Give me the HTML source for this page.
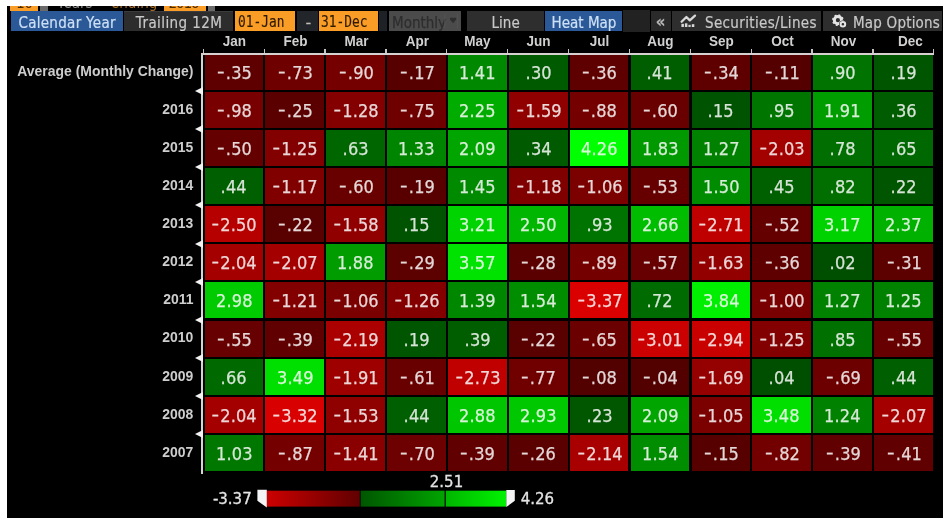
<!DOCTYPE html>
<html><head><meta charset="utf-8"><style>
html,body{margin:0;padding:0;background:#fff;width:950px;height:526px;overflow:hidden}
#pn{position:absolute;left:7px;top:6px;width:936px;height:512px;background:#000;overflow:hidden;filter:blur(0.5px)}
.a{position:absolute}
#g{position:absolute;left:-7px;top:-6px;width:950px;height:526px}
.c{position:absolute;width:58.67px;height:36.0px;line-height:38.5px;text-align:center;color:#f2eeee;font-family:"DejaVu Sans","Liberation Sans",sans-serif;font-size:18px;-webkit-text-stroke:0.25px currentColor}
.c>span{display:inline-block;transform:scaleX(0.9)}
.m{display:inline-block;transform:translateY(-1.6px) scaleX(1.3);transform-origin:100% 50%;margin-right:1.2px}
.p{margin:0 0.2px}
.n{text-indent:1px}
.rl{position:absolute;right:756.5px;height:36.0px;line-height:36.0px;color:#cdcdcd;font-family:"Liberation Sans",sans-serif;font-weight:bold;font-size:15px;white-space:nowrap;transform:scaleX(0.93);transform-origin:100% 50%}
.mh{position:absolute;top:31px;width:60.87px;height:20px;line-height:20px;text-align:center;color:#d0d0d0;font-family:"Liberation Sans",sans-serif;font-weight:bold;font-size:15px;transform:scaleX(0.9);transform-origin:50% 50%}
.tk{position:absolute;top:49.3px;width:1.3px;height:4px;background:#c4c4c4}
.tri{position:absolute;left:194.6px;width:0;height:0;border-top:4px solid transparent;border-bottom:4px solid transparent;border-right:8.8px solid #f2f2f2}
.t{display:inline-block;transform:scaleX(0.9)}
.tl{transform-origin:0 50%}
.tab{position:absolute;top:11.3px;height:19.7px;line-height:25px;overflow:hidden;font-family:"DejaVu Sans","Liberation Sans",sans-serif;font-size:15px;color:#c8c8c8;text-align:center;white-space:nowrap;-webkit-text-stroke:0.2px currentColor}
.or{background:#f99d26;color:#2e1a00;font-family:"DejaVu Sans Mono","Liberation Mono",monospace;font-size:15.5px;top:10.6px;height:20.9px;line-height:23.6px;-webkit-text-stroke:0.15px #2e1a00}
.or span{display:inline-block;transform:scaleX(0.83);transform-origin:0 50%}
.lg{position:absolute;font-family:"DejaVu Sans","Liberation Sans",sans-serif;font-size:15px;color:#e4e4e4;line-height:18px;white-space:nowrap;-webkit-text-stroke:0.3px #e4e4e4}
</style></head><body>
<div id="pn"><div id="g">
<!-- partial top row -->
<div class="a" style="left:10px;top:-6px;width:28px;height:16.5px;background:#f99d26;overflow:hidden"><div style="position:absolute;left:6px;top:0.8px;font-family:'DejaVu Sans Mono',monospace;font-size:14px;line-height:16px;color:#4a2c00">10</div></div>
<div class="a" style="left:40px;top:-6px;width:8px;height:17px;background:#6a6a6a"></div>
<div class="a" style="left:57px;top:-5.5px;font-family:'DejaVu Sans',sans-serif;font-size:15px;line-height:16px;color:#909090;transform:scaleX(0.9);transform-origin:0 0">Years</div>
<div class="a" style="left:111px;top:-5.5px;font-family:'DejaVu Sans',sans-serif;font-size:15px;line-height:16px;color:#a87028;transform:scaleX(0.9);transform-origin:0 0">ending</div>
<div class="a" style="left:163.5px;top:-6px;width:42px;height:16.5px;background:#f99d26;overflow:hidden"><div style="position:absolute;left:5px;top:0.8px;font-family:'DejaVu Sans Mono',monospace;font-size:14px;line-height:16px;color:#4a2c00;letter-spacing:-0.9px">2016</div></div>
<div class="a" style="left:208px;top:-6px;width:7px;height:17px;background:#6a6a6a"></div>

<!-- tab bar -->
<div class="tab" style="left:11.2px;width:111.6px;background:#2b5896;color:#cde0f6"><span class="t" style="letter-spacing:0.33px">Calendar Year</span></div>
<div class="tab" style="left:123.6px;width:108.8px;padding-left:1px;background:#2d2d2d;box-shadow:inset 0 1px 0 #3c3c3c"><span class="t" style="letter-spacing:0.45px">Trailing 12M</span></div>
<div class="tab or" style="left:235px;width:57.3px;text-align:left;padding-left:2.5px"><span>01-Jan</span></div>
<div class="tab" style="left:297px;width:18.7px;padding-left:2px;background:#22262a;color:#c4beb4;line-height:23.5px;font-size:16px">-</div>
<div class="tab or" style="left:318.9px;width:57.1px;text-align:left;padding-left:2.5px"><span>31-Dec</span></div>
<div class="a" style="left:378.5px;top:11.3px;width:8.5px;height:20px;background:#1e2226"></div>
<div class="tab" style="left:389px;width:69.5px;padding-left:2.5px;background:#4b4b4b;color:#2e2e2e;text-align:left;-webkit-text-stroke:0.25px #2e2e2e"><span class="t tl">Monthly</span></div>

<div class="tab" style="left:467px;width:77px;background:#2e2e2e"><span class="t">Line</span></div>
<div class="tab" style="left:545.3px;width:76.8px;background:#2b5896;color:#cde0f6"><span class="t">Heat Map</span></div>
<div class="a" style="left:623.2px;top:9.8px;width:27.3px;height:22.2px;background:#222"></div>
<div class="tab" style="left:650.5px;width:20.4px;background:#2a2a2a;font-size:15px;font-weight:bold;line-height:23px;color:#b8b8b8">«</div>
<div class="tab" style="left:671.8px;width:115.8px;padding-left:33px;background:#2e2e2e;text-align:left"><span class="t tl" style="letter-spacing:0.39px">Securities/Lines</span></div>
<div class="tab" style="left:823.3px;width:89px;padding-left:30px;background:#2e2e2e;text-align:left"><span class="t tl" style="letter-spacing:0.22px">Map Options</span></div>

<!-- axes -->
<div class="a" style="left:201.4px;top:52.8px;width:2px;height:420.8px;background:#d4d4d4"></div>
<div class="tk" style="left:202.70px"></div><div class="tk" style="left:263.57px"></div><div class="tk" style="left:324.44px"></div><div class="tk" style="left:385.31px"></div><div class="tk" style="left:446.18px"></div><div class="tk" style="left:507.05px"></div><div class="tk" style="left:567.92px"></div><div class="tk" style="left:628.79px"></div><div class="tk" style="left:689.66px"></div><div class="tk" style="left:750.53px"></div><div class="tk" style="left:811.40px"></div><div class="tk" style="left:872.27px"></div><div class="tk" style="left:933.14px"></div>
<div class="mh" style="left:204.00px">Jan</div><div class="mh" style="left:264.87px">Feb</div><div class="mh" style="left:325.74px">Mar</div><div class="mh" style="left:386.61px">Apr</div><div class="mh" style="left:447.48px">May</div><div class="mh" style="left:508.35px">Jun</div><div class="mh" style="left:569.22px">Jul</div><div class="mh" style="left:630.09px">Aug</div><div class="mh" style="left:690.96px">Sep</div><div class="mh" style="left:751.83px">Oct</div><div class="mh" style="left:812.70px">Nov</div><div class="mh" style="left:879.57px">Dec</div>
<div class="c n" style="left:204.55px;top:53.70px;background:#5e0000;color:#e4d7d7"><span><span class="m">-</span><span class="p">.</span>35</span></div><div class="c n" style="left:265.42px;top:53.70px;background:#6e0000;color:#e6d7d7"><span><span class="m">-</span><span class="p">.</span>73</span></div><div class="c n" style="left:326.29px;top:53.70px;background:#750000;color:#e7d7d7"><span><span class="m">-</span><span class="p">.</span>90</span></div><div class="c n" style="left:387.16px;top:53.70px;background:#570000;color:#e3d7d7"><span><span class="m">-</span><span class="p">.</span>17</span></div><div class="c" style="left:448.03px;top:53.70px;background:#008800;color:#d7ead7"><span>1<span class="p">.</span>41</span></div><div class="c" style="left:508.90px;top:53.70px;background:#005a00;color:#d7e4d7"><span><span class="p">.</span>30</span></div><div class="c n" style="left:569.77px;top:53.70px;background:#5f0000;color:#e4d7d7"><span><span class="m">-</span><span class="p">.</span>36</span></div><div class="c" style="left:630.64px;top:53.70px;background:#005e00;color:#d7e4d7"><span><span class="p">.</span>41</span></div><div class="c n" style="left:691.51px;top:53.70px;background:#5e0000;color:#e4d7d7"><span><span class="m">-</span><span class="p">.</span>34</span></div><div class="c n" style="left:752.38px;top:53.70px;background:#550000;color:#e3d7d7"><span><span class="m">-</span><span class="p">.</span>11</span></div><div class="c" style="left:813.25px;top:53.70px;background:#007300;color:#d7e7d7"><span><span class="p">.</span>90</span></div><div class="c" style="left:874.12px;top:53.70px;background:#005500;color:#d7e3d7"><span><span class="p">.</span>19</span></div><div class="rl" style="top:52.50px">Average (Monthly Change)</div><div class="c n" style="left:204.55px;top:91.83px;background:#780000;color:#e8d7d7"><span><span class="m">-</span><span class="p">.</span>98</span></div><div class="c n" style="left:265.42px;top:91.83px;background:#5a0000;color:#e4d7d7"><span><span class="m">-</span><span class="p">.</span>25</span></div><div class="c n" style="left:326.29px;top:91.83px;background:#840000;color:#e9d7d7"><span><span class="m">-</span>1<span class="p">.</span>28</span></div><div class="c n" style="left:387.16px;top:91.83px;background:#6f0000;color:#e7d7d7"><span><span class="m">-</span><span class="p">.</span>75</span></div><div class="c" style="left:448.03px;top:91.83px;background:#00ac00;color:#d7efd7"><span>2<span class="p">.</span>25</span></div><div class="c n" style="left:508.90px;top:91.83px;background:#910000;color:#ebd7d7"><span><span class="m">-</span>1<span class="p">.</span>59</span></div><div class="c n" style="left:569.77px;top:91.83px;background:#740000;color:#e7d7d7"><span><span class="m">-</span><span class="p">.</span>88</span></div><div class="c n" style="left:630.64px;top:91.83px;background:#690000;color:#e6d7d7"><span><span class="m">-</span><span class="p">.</span>60</span></div><div class="c" style="left:691.51px;top:91.83px;background:#005300;color:#d7e3d7"><span><span class="p">.</span>15</span></div><div class="c" style="left:752.38px;top:91.83px;background:#007500;color:#d7e7d7"><span><span class="p">.</span>95</span></div><div class="c" style="left:813.25px;top:91.83px;background:#009d00;color:#d7edd7"><span>1<span class="p">.</span>91</span></div><div class="c" style="left:874.12px;top:91.83px;background:#005c00;color:#d7e4d7"><span><span class="p">.</span>36</span></div><div class="rl" style="top:90.63px">2016</div><div class="tri" style="top:87.08px"></div><div class="c n" style="left:204.55px;top:129.96px;background:#640000;color:#e5d7d7"><span><span class="m">-</span><span class="p">.</span>50</span></div><div class="c n" style="left:265.42px;top:129.96px;background:#830000;color:#e9d7d7"><span><span class="m">-</span>1<span class="p">.</span>25</span></div><div class="c" style="left:326.29px;top:129.96px;background:#006700;color:#d7e5d7"><span><span class="p">.</span>63</span></div><div class="c" style="left:387.16px;top:129.96px;background:#008500;color:#d7ead7"><span>1<span class="p">.</span>33</span></div><div class="c" style="left:448.03px;top:129.96px;background:#00a500;color:#d7eed7"><span>2<span class="p">.</span>09</span></div><div class="c" style="left:508.90px;top:129.96px;background:#005b00;color:#d7e4d7"><span><span class="p">.</span>34</span></div><div class="c" style="left:569.77px;top:129.96px;background:#00ff00;color:#d7fbd7"><span>4<span class="p">.</span>26</span></div><div class="c" style="left:630.64px;top:129.96px;background:#009a00;color:#d7edd7"><span>1<span class="p">.</span>83</span></div><div class="c" style="left:691.51px;top:129.96px;background:#008200;color:#d7e9d7"><span>1<span class="p">.</span>27</span></div><div class="c n" style="left:752.38px;top:129.96px;background:#a30000;color:#eed7d7"><span><span class="m">-</span>2<span class="p">.</span>03</span></div><div class="c" style="left:813.25px;top:129.96px;background:#006e00;color:#d7e6d7"><span><span class="p">.</span>78</span></div><div class="c" style="left:874.12px;top:129.96px;background:#006800;color:#d7e6d7"><span><span class="p">.</span>65</span></div><div class="rl" style="top:128.76px">2015</div><div class="tri" style="top:125.21px"></div><div class="c" style="left:204.55px;top:168.09px;background:#005f00;color:#d7e4d7"><span><span class="p">.</span>44</span></div><div class="c n" style="left:265.42px;top:168.09px;background:#800000;color:#e9d7d7"><span><span class="m">-</span>1<span class="p">.</span>17</span></div><div class="c n" style="left:326.29px;top:168.09px;background:#690000;color:#e6d7d7"><span><span class="m">-</span><span class="p">.</span>60</span></div><div class="c n" style="left:387.16px;top:168.09px;background:#580000;color:#e3d7d7"><span><span class="m">-</span><span class="p">.</span>19</span></div><div class="c" style="left:448.03px;top:168.09px;background:#008a00;color:#d7ead7"><span>1<span class="p">.</span>45</span></div><div class="c n" style="left:508.90px;top:168.09px;background:#800000;color:#e9d7d7"><span><span class="m">-</span>1<span class="p">.</span>18</span></div><div class="c n" style="left:569.77px;top:168.09px;background:#7b0000;color:#e8d7d7"><span><span class="m">-</span>1<span class="p">.</span>06</span></div><div class="c n" style="left:630.64px;top:168.09px;background:#660000;color:#e5d7d7"><span><span class="m">-</span><span class="p">.</span>53</span></div><div class="c" style="left:691.51px;top:168.09px;background:#008c00;color:#d7ebd7"><span>1<span class="p">.</span>50</span></div><div class="c" style="left:752.38px;top:168.09px;background:#006000;color:#d7e4d7"><span><span class="p">.</span>45</span></div><div class="c" style="left:813.25px;top:168.09px;background:#006f00;color:#d7e7d7"><span><span class="p">.</span>82</span></div><div class="c" style="left:874.12px;top:168.09px;background:#005600;color:#d7e3d7"><span><span class="p">.</span>22</span></div><div class="rl" style="top:166.89px">2014</div><div class="tri" style="top:163.34px"></div><div class="c n" style="left:204.55px;top:206.22px;background:#b60000;color:#f0d7d7"><span><span class="m">-</span>2<span class="p">.</span>50</span></div><div class="c n" style="left:265.42px;top:206.22px;background:#590000;color:#e3d7d7"><span><span class="m">-</span><span class="p">.</span>22</span></div><div class="c n" style="left:326.29px;top:206.22px;background:#910000;color:#ebd7d7"><span><span class="m">-</span>1<span class="p">.</span>58</span></div><div class="c" style="left:387.16px;top:206.22px;background:#005300;color:#d7e3d7"><span><span class="p">.</span>15</span></div><div class="c" style="left:448.03px;top:206.22px;background:#00d400;color:#d7f5d7"><span>3<span class="p">.</span>21</span></div><div class="c" style="left:508.90px;top:206.22px;background:#00b600;color:#d7f0d7"><span>2<span class="p">.</span>50</span></div><div class="c" style="left:569.77px;top:206.22px;background:#007400;color:#d7e7d7"><span><span class="p">.</span>93</span></div><div class="c" style="left:630.64px;top:206.22px;background:#00bd00;color:#d7f1d7"><span>2<span class="p">.</span>66</span></div><div class="c n" style="left:691.51px;top:206.22px;background:#bf0000;color:#f2d7d7"><span><span class="m">-</span>2<span class="p">.</span>71</span></div><div class="c n" style="left:752.38px;top:206.22px;background:#650000;color:#e5d7d7"><span><span class="m">-</span><span class="p">.</span>52</span></div><div class="c" style="left:813.25px;top:206.22px;background:#00d200;color:#d7f4d7"><span>3<span class="p">.</span>17</span></div><div class="c" style="left:874.12px;top:206.22px;background:#00b100;color:#d7f0d7"><span>2<span class="p">.</span>37</span></div><div class="rl" style="top:205.02px">2013</div><div class="tri" style="top:201.47px"></div><div class="c n" style="left:204.55px;top:244.35px;background:#a40000;color:#eed7d7"><span><span class="m">-</span>2<span class="p">.</span>04</span></div><div class="c n" style="left:265.42px;top:244.35px;background:#a50000;color:#eed7d7"><span><span class="m">-</span>2<span class="p">.</span>07</span></div><div class="c" style="left:326.29px;top:244.35px;background:#009c00;color:#d7edd7"><span>1<span class="p">.</span>88</span></div><div class="c n" style="left:387.16px;top:244.35px;background:#5c0000;color:#e4d7d7"><span><span class="m">-</span><span class="p">.</span>29</span></div><div class="c" style="left:448.03px;top:244.35px;background:#00e300;color:#d7f7d7"><span>3<span class="p">.</span>57</span></div><div class="c n" style="left:508.90px;top:244.35px;background:#5b0000;color:#e4d7d7"><span><span class="m">-</span><span class="p">.</span>28</span></div><div class="c n" style="left:569.77px;top:244.35px;background:#740000;color:#e7d7d7"><span><span class="m">-</span><span class="p">.</span>89</span></div><div class="c n" style="left:630.64px;top:244.35px;background:#670000;color:#e5d7d7"><span><span class="m">-</span><span class="p">.</span>57</span></div><div class="c n" style="left:691.51px;top:244.35px;background:#930000;color:#ecd7d7"><span><span class="m">-</span>1<span class="p">.</span>63</span></div><div class="c n" style="left:752.38px;top:244.35px;background:#5f0000;color:#e4d7d7"><span><span class="m">-</span><span class="p">.</span>36</span></div><div class="c" style="left:813.25px;top:244.35px;background:#004e00;color:#d7e2d7"><span><span class="p">.</span>02</span></div><div class="c n" style="left:874.12px;top:244.35px;background:#5d0000;color:#e4d7d7"><span><span class="m">-</span><span class="p">.</span>31</span></div><div class="rl" style="top:243.15px">2012</div><div class="tri" style="top:239.60px"></div><div class="c" style="left:204.55px;top:282.48px;background:#00ca00;color:#d7f3d7"><span>2<span class="p">.</span>98</span></div><div class="c n" style="left:265.42px;top:282.48px;background:#820000;color:#e9d7d7"><span><span class="m">-</span>1<span class="p">.</span>21</span></div><div class="c n" style="left:326.29px;top:282.48px;background:#7b0000;color:#e8d7d7"><span><span class="m">-</span>1<span class="p">.</span>06</span></div><div class="c n" style="left:387.16px;top:282.48px;background:#840000;color:#e9d7d7"><span><span class="m">-</span>1<span class="p">.</span>26</span></div><div class="c" style="left:448.03px;top:282.48px;background:#008700;color:#d7ead7"><span>1<span class="p">.</span>39</span></div><div class="c" style="left:508.90px;top:282.48px;background:#008e00;color:#d7ebd7"><span>1<span class="p">.</span>54</span></div><div class="c n" style="left:569.77px;top:282.48px;background:#da0000;color:#f6d7d7"><span><span class="m">-</span>3<span class="p">.</span>37</span></div><div class="c" style="left:630.64px;top:282.48px;background:#006b00;color:#d7e6d7"><span><span class="p">.</span>72</span></div><div class="c" style="left:691.51px;top:282.48px;background:#00ee00;color:#d7f8d7"><span>3<span class="p">.</span>84</span></div><div class="c n" style="left:752.38px;top:282.48px;background:#790000;color:#e8d7d7"><span><span class="m">-</span>1<span class="p">.</span>00</span></div><div class="c" style="left:813.25px;top:282.48px;background:#008200;color:#d7e9d7"><span>1<span class="p">.</span>27</span></div><div class="c" style="left:874.12px;top:282.48px;background:#008200;color:#d7e9d7"><span>1<span class="p">.</span>25</span></div><div class="rl" style="top:281.28px">2011</div><div class="tri" style="top:277.73px"></div><div class="c n" style="left:204.55px;top:320.61px;background:#670000;color:#e5d7d7"><span><span class="m">-</span><span class="p">.</span>55</span></div><div class="c n" style="left:265.42px;top:320.61px;background:#600000;color:#e4d7d7"><span><span class="m">-</span><span class="p">.</span>39</span></div><div class="c n" style="left:326.29px;top:320.61px;background:#aa0000;color:#efd7d7"><span><span class="m">-</span>2<span class="p">.</span>19</span></div><div class="c" style="left:387.16px;top:320.61px;background:#005500;color:#d7e3d7"><span><span class="p">.</span>19</span></div><div class="c" style="left:448.03px;top:320.61px;background:#005d00;color:#d7e4d7"><span><span class="p">.</span>39</span></div><div class="c n" style="left:508.90px;top:320.61px;background:#590000;color:#e3d7d7"><span><span class="m">-</span><span class="p">.</span>22</span></div><div class="c n" style="left:569.77px;top:320.61px;background:#6b0000;color:#e6d7d7"><span><span class="m">-</span><span class="p">.</span>65</span></div><div class="c n" style="left:630.64px;top:320.61px;background:#cb0000;color:#f3d7d7"><span><span class="m">-</span>3<span class="p">.</span>01</span></div><div class="c n" style="left:691.51px;top:320.61px;background:#c90000;color:#f3d7d7"><span><span class="m">-</span>2<span class="p">.</span>94</span></div><div class="c n" style="left:752.38px;top:320.61px;background:#830000;color:#e9d7d7"><span><span class="m">-</span>1<span class="p">.</span>25</span></div><div class="c" style="left:813.25px;top:320.61px;background:#007100;color:#d7e7d7"><span><span class="p">.</span>85</span></div><div class="c n" style="left:874.12px;top:320.61px;background:#670000;color:#e5d7d7"><span><span class="m">-</span><span class="p">.</span>55</span></div><div class="rl" style="top:319.41px">2010</div><div class="tri" style="top:315.86px"></div><div class="c" style="left:204.55px;top:358.74px;background:#006900;color:#d7e6d7"><span><span class="p">.</span>66</span></div><div class="c" style="left:265.42px;top:358.74px;background:#00e000;color:#d7f6d7"><span>3<span class="p">.</span>49</span></div><div class="c n" style="left:326.29px;top:358.74px;background:#9e0000;color:#edd7d7"><span><span class="m">-</span>1<span class="p">.</span>91</span></div><div class="c n" style="left:387.16px;top:358.74px;background:#690000;color:#e6d7d7"><span><span class="m">-</span><span class="p">.</span>61</span></div><div class="c n" style="left:448.03px;top:358.74px;background:#c00000;color:#f2d7d7"><span><span class="m">-</span>2<span class="p">.</span>73</span></div><div class="c n" style="left:508.90px;top:358.74px;background:#700000;color:#e7d7d7"><span><span class="m">-</span><span class="p">.</span>77</span></div><div class="c n" style="left:569.77px;top:358.74px;background:#530000;color:#e3d7d7"><span><span class="m">-</span><span class="p">.</span>08</span></div><div class="c n" style="left:630.64px;top:358.74px;background:#520000;color:#e2d7d7"><span><span class="m">-</span><span class="p">.</span>04</span></div><div class="c n" style="left:691.51px;top:358.74px;background:#950000;color:#ecd7d7"><span><span class="m">-</span>1<span class="p">.</span>69</span></div><div class="c" style="left:752.38px;top:358.74px;background:#004f00;color:#d7e2d7"><span><span class="p">.</span>04</span></div><div class="c n" style="left:813.25px;top:358.74px;background:#6c0000;color:#e6d7d7"><span><span class="m">-</span><span class="p">.</span>69</span></div><div class="c" style="left:874.12px;top:358.74px;background:#005f00;color:#d7e4d7"><span><span class="p">.</span>44</span></div><div class="rl" style="top:357.54px">2009</div><div class="tri" style="top:353.99px"></div><div class="c n" style="left:204.55px;top:396.87px;background:#a40000;color:#eed7d7"><span><span class="m">-</span>2<span class="p">.</span>04</span></div><div class="c n" style="left:265.42px;top:396.87px;background:#d80000;color:#f5d7d7"><span><span class="m">-</span>3<span class="p">.</span>32</span></div><div class="c n" style="left:326.29px;top:396.87px;background:#8f0000;color:#ebd7d7"><span><span class="m">-</span>1<span class="p">.</span>53</span></div><div class="c" style="left:387.16px;top:396.87px;background:#005f00;color:#d7e4d7"><span><span class="p">.</span>44</span></div><div class="c" style="left:448.03px;top:396.87px;background:#00c600;color:#d7f3d7"><span>2<span class="p">.</span>88</span></div><div class="c" style="left:508.90px;top:396.87px;background:#00c800;color:#d7f3d7"><span>2<span class="p">.</span>93</span></div><div class="c" style="left:569.77px;top:396.87px;background:#005700;color:#d7e3d7"><span><span class="p">.</span>23</span></div><div class="c" style="left:630.64px;top:396.87px;background:#00a500;color:#d7eed7"><span>2<span class="p">.</span>09</span></div><div class="c n" style="left:691.51px;top:396.87px;background:#7b0000;color:#e8d7d7"><span><span class="m">-</span>1<span class="p">.</span>05</span></div><div class="c" style="left:752.38px;top:396.87px;background:#00df00;color:#d7f6d7"><span>3<span class="p">.</span>48</span></div><div class="c" style="left:813.25px;top:396.87px;background:#008100;color:#d7e9d7"><span>1<span class="p">.</span>24</span></div><div class="c n" style="left:874.12px;top:396.87px;background:#a50000;color:#eed7d7"><span><span class="m">-</span>2<span class="p">.</span>07</span></div><div class="rl" style="top:395.67px">2008</div><div class="tri" style="top:392.12px"></div><div class="c" style="left:204.55px;top:435.00px;background:#007800;color:#d7e8d7"><span>1<span class="p">.</span>03</span></div><div class="c n" style="left:265.42px;top:435.00px;background:#740000;color:#e7d7d7"><span><span class="m">-</span><span class="p">.</span>87</span></div><div class="c n" style="left:326.29px;top:435.00px;background:#8a0000;color:#ead7d7"><span><span class="m">-</span>1<span class="p">.</span>41</span></div><div class="c n" style="left:387.16px;top:435.00px;background:#6d0000;color:#e6d7d7"><span><span class="m">-</span><span class="p">.</span>70</span></div><div class="c n" style="left:448.03px;top:435.00px;background:#600000;color:#e4d7d7"><span><span class="m">-</span><span class="p">.</span>39</span></div><div class="c n" style="left:508.90px;top:435.00px;background:#5b0000;color:#e4d7d7"><span><span class="m">-</span><span class="p">.</span>26</span></div><div class="c n" style="left:569.77px;top:435.00px;background:#a80000;color:#efd7d7"><span><span class="m">-</span>2<span class="p">.</span>14</span></div><div class="c" style="left:630.64px;top:435.00px;background:#008e00;color:#d7ebd7"><span>1<span class="p">.</span>54</span></div><div class="c n" style="left:691.51px;top:435.00px;background:#560000;color:#e3d7d7"><span><span class="m">-</span><span class="p">.</span>15</span></div><div class="c n" style="left:752.38px;top:435.00px;background:#720000;color:#e7d7d7"><span><span class="m">-</span><span class="p">.</span>82</span></div><div class="c n" style="left:813.25px;top:435.00px;background:#600000;color:#e4d7d7"><span><span class="m">-</span><span class="p">.</span>39</span></div><div class="c n" style="left:874.12px;top:435.00px;background:#610000;color:#e5d7d7"><span><span class="m">-</span><span class="p">.</span>41</span></div><div class="rl" style="top:433.80px">2007</div><div class="tri" style="top:430.25px"></div>
<div class="a" style="left:201.4px;top:52.9px;width:732.5px;height:2px;background:#d6d0d0"></div>

<!-- legend -->
<div class="lg" style="right:698.3px;top:490.3px">-3.37</div>
<svg class="a" style="left:0;top:0" width="950" height="526">
<defs>
<linearGradient id="lr" x1="0" x2="1" y1="0" y2="0"><stop offset="0" stop-color="#cc0000"/><stop offset="1" stop-color="#600000"/></linearGradient>
<linearGradient id="lg1" x1="0" x2="1" y1="0" y2="0"><stop offset="0" stop-color="#005600"/><stop offset="1" stop-color="#00a400"/></linearGradient>
<linearGradient id="lg2" x1="0" x2="1" y1="0" y2="0"><stop offset="0" stop-color="#00b600"/><stop offset="1" stop-color="#00f200"/></linearGradient>
</defs>
<rect x="266.8" y="490.7" width="93" height="15.9" fill="url(#lr)"/>
<rect x="360.6" y="490.7" width="84" height="15.9" fill="url(#lg1)"/>
<rect x="445.8" y="490.7" width="60.5" height="15.9" fill="url(#lg2)"/>
<polygon points="257.4,489.7 266.8,489.7 266.8,507.4 257.4,500.8" fill="#f4f4f4"/>
<polygon points="506.3,490 514.8,490 514.8,500.8 506.3,507.1" fill="#f4f4f4"/>
<!-- dropdown arrow -->
<rect x="444.4" y="14" width="0.8" height="14" fill="#555"/>
<rect x="457.3" y="14" width="0.8" height="14" fill="#555"/>
<polygon points="450,17.8 456.2,17.8 456.2,19.6 453.1,23.2 450,19.6" fill="#2e2e2e"/>
<!-- chart icon -->
<polyline points="681.6,21.8 686.4,17 689.8,20.3 695,15.6" fill="none" stroke="#d8d8d8" stroke-width="2.3" stroke-linejoin="round" stroke-linecap="round"/>
<rect x="681.4" y="23.8" width="2.5" height="3.2" fill="#d8d8d8"/>
<rect x="684.9" y="23.3" width="2.5" height="3.7" fill="#d8d8d8"/>
<rect x="688.4" y="24.8" width="2.3" height="2.2" fill="#d0d0d0"/>
<rect x="691.8" y="24.2" width="2.5" height="2.8" fill="#d8d8d8"/>
<!-- gears -->
<circle cx="837.9" cy="20.2" r="3.6" fill="none" stroke="#e4e4e4" stroke-width="3"/>
<circle cx="837.9" cy="20.2" r="5.2" fill="none" stroke="#e4e4e4" stroke-width="1.4" stroke-dasharray="1.9 2.18"/>
<circle cx="842.9" cy="24.3" r="3.9" fill="#2e2e2e"/>
<circle cx="842.9" cy="24.3" r="2.3" fill="none" stroke="#e4e4e4" stroke-width="2"/>
</svg>
<div class="lg" style="left:429.8px;top:473px">2.51</div>
<div class="lg" style="left:520.7px;top:490.3px">4.26</div>
</div></div>
</body></html>
